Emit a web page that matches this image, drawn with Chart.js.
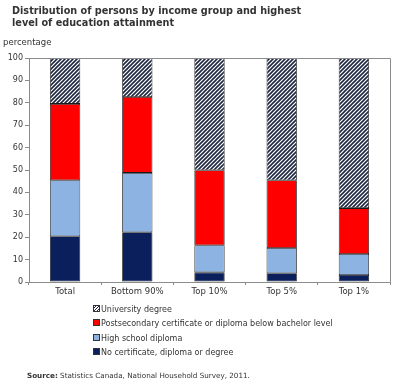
<!DOCTYPE html>
<html>
<head>
<meta charset="utf-8">
<script src="https://cdn.jsdelivr.net/npm/chart.js@4/dist/chart.umd.min.js"></script>
<style>
  html, body { margin: 0; padding: 0; background: #fff; }
  body { width: 407px; height: 387px; position: relative; overflow: hidden; font-family: 'DejaVu Sans', Verdana, sans-serif; color: #333; }
  #wrap { position: absolute; left: 0; top: 0; width: 407px; height: 387px; }
  .title { position: absolute; left: 12px; top: 5px; font-size: 9.7px; font-weight: bold; line-height: 11.5px; color: #333; }
  .unit { position: absolute; left: 3px; top: 37px; font-size: 8.5px; color: #333; }
  .legend { position: absolute; left: 93px; top: 304px; font-size: 8px; color: #333; }
  .legend div { height: 14.3px; line-height: 12px; white-space: nowrap; }
  .legend span.box { display: inline-block; width: 5px; height: 5px; border: 1px solid #333; margin-right: 1px; vertical-align: 0px; }
  .source { position: absolute; left: 27px; top: 371px; font-size: 7.2px; color: #333; }
</style>
</head>
<body>
<div id="wrap"><canvas id="chart" width="407" height="387"></canvas></div>
<div class="title">Distribution of persons by income group and highest<br>level of education attainment</div>
<div class="unit">percentage</div>
<div class="legend" id="legend"></div>
<div class="source"><b>Source:</b> Statistics Canada, National Household Survey, 2011.</div>
<script>
// данные
const categories = ['Total', 'Bottom 90%', 'Top 10%', 'Top 5%', 'Top 1%'];
const seriesNames = [
  'No certificate, diploma or degree',
  'High school diploma',
  'Postsecondary certificate or diploma below bachelor level',
  'University degree',
];
const noCertificate = [20.4, 22.2, 4.3, 3.9, 3.1];
const highSchool = [25.0, 26.5, 12.1, 11.3, 9.4];
const postsecondary = [34.1, 33.9, 33.5, 30.2, 20.5];
const university = [20.5, 17.4, 50.1, 54.6, 67.0];
const yTicks = [0, 10, 20, 30, 40, 50, 60, 70, 80, 90, 100];

// штриховка для университетов
function makeHatch() {
  const size = 4;
  const c = document.createElement('canvas');
  c.width = size;
  c.height = size;
  const g = c.getContext('2d');
  g.fillStyle = '#ffffff';
  g.fillRect(0, 0, size, size);
  g.strokeStyle = '#1c2640';
  g.lineWidth = 1.6;
  g.beginPath();
  g.moveTo(0, size); g.lineTo(size, 0);
  g.moveTo(-1, 1); g.lineTo(1, -1);
  g.moveTo(size - 1, size + 1); g.lineTo(size + 1, size - 1);
  g.stroke();
  return g.createPattern(c, 'repeat');
}
const hatch = makeHatch();

const colors = ['#0a1f5c', '#8db3e2', '#ff0000', hatch];
const legendSwatch = ['#0a1f5c', '#8db3e2', '#ff0000', null];

// рамка вокруг поля диаграммы (верх и право)
const plotFrame = {
  id: 'plotFrame',
  afterDraw(chart) {
    const { ctx, chartArea: { left, top, right, bottom } } = chart;
    ctx.save();
    ctx.strokeStyle = '#8c8c8c';
    ctx.lineWidth = 1;
    ctx.beginPath();
    ctx.moveTo(left, top + 0.5);
    ctx.lineTo(right + 0.5, top + 0.5);
    ctx.lineTo(right + 0.5, bottom);
    ctx.stroke();
    ctx.restore();
  },
};

const values = [noCertificate, highSchool, postsecondary, university];
const datasets = values.map((arr, i) => ({
  label: seriesNames[i],
  data: arr,
  backgroundColor: colors[i],
  borderColor: '#1a1a1a',
  borderWidth: 0.8,
  borderSkipped: false,
  barPercentage: 0.42,
  categoryPercentage: 1,
}));

// легенда (сверху вниз в обратном порядке)
const legendEl = document.getElementById('legend');
for (let i = seriesNames.length - 1; i >= 0; i -= 1) {
  const row = document.createElement('div');
  const box = document.createElement('span');
  box.className = 'box';
  if (legendSwatch[i]) {
    box.style.background = legendSwatch[i];
  } else {
    box.style.background = 'repeating-linear-gradient(135deg, #fff 0 1px, #1c2640 1px 2px)';
  }
  row.appendChild(box);
  row.appendChild(document.createTextNode(seriesNames[i]));
  legendEl.appendChild(row);
}

const chart = new Chart(document.getElementById('chart'), {
  type: 'bar',
  data: { labels: categories, datasets },
  options: {
    responsive: false,
    animation: false,
    layout: { padding: { top: 58, right: 17, left: 0, bottom: 0 } },
    plugins: { legend: { display: false }, tooltip: { enabled: false } },
    scales: {
      x: {
        stacked: true,
        grid: { drawOnChartArea: false, drawTicks: true, tickLength: 3, color: '#8c8c8c' },
        border: { color: '#8c8c8c' },
        ticks: { color: '#333', font: { family: 'DejaVu Sans', size: 8.5 }, padding: 2, maxRotation: 0 },
        afterFit(scale) { scale.height = 105; },
      },
      y: {
        stacked: true,
        min: 0,
        max: 100,
        afterBuildTicks(scale) { scale.ticks = yTicks.map((v) => ({ value: v })); },
        grid: { drawOnChartArea: false, drawTicks: true, tickLength: 4, color: '#8c8c8c' },
        border: { color: '#8c8c8c' },
        ticks: { color: '#333', font: { family: 'DejaVu Sans', size: 8 }, padding: 2 },
        afterFit(scale) { scale.width = 29; },
      },
    },
  },
  plugins: [plotFrame],
});
</script>
</body>
</html>
